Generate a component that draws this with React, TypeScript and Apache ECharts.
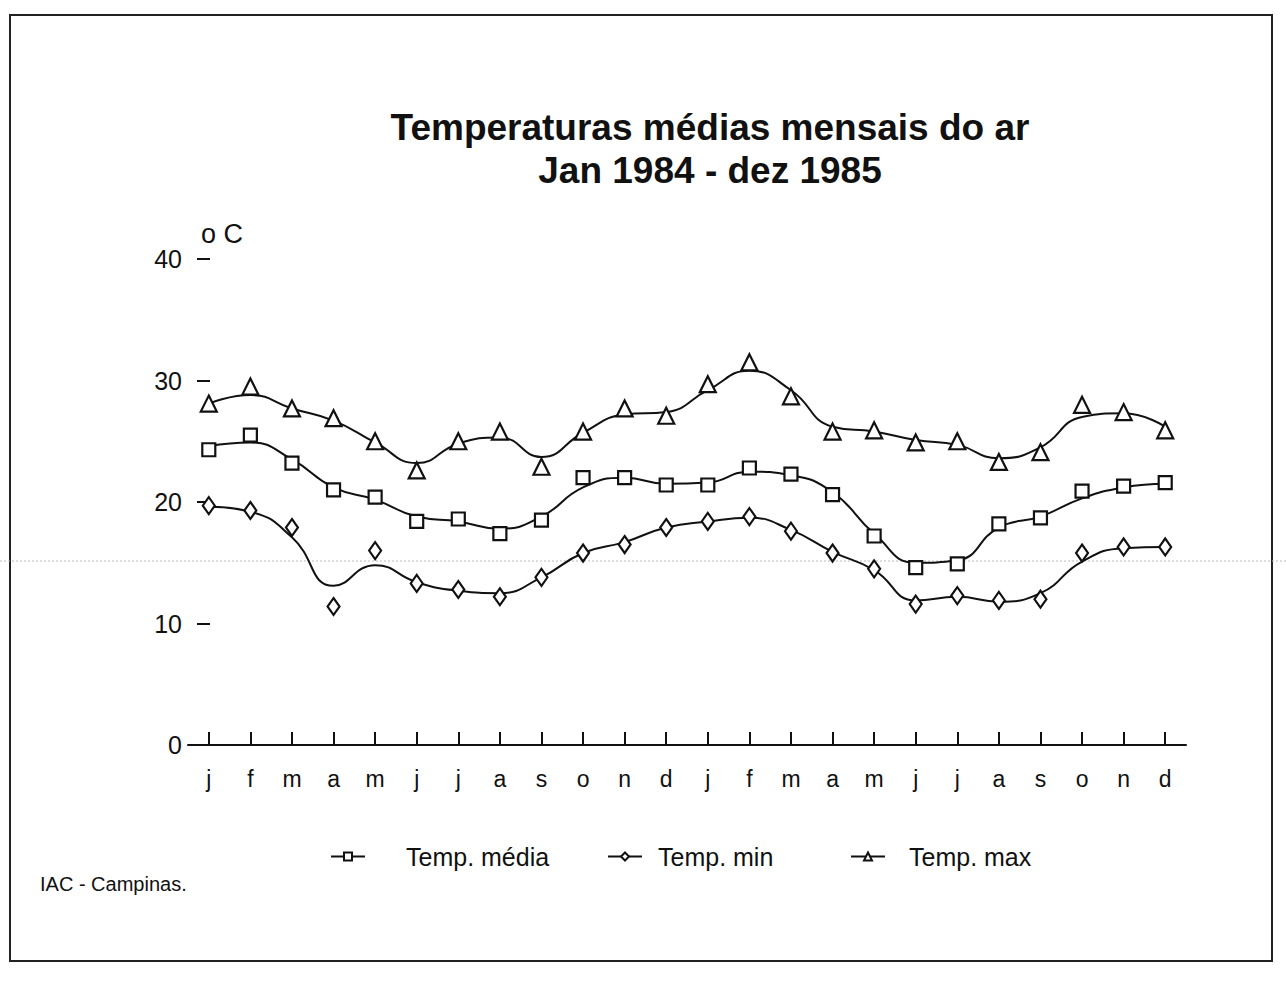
import React, { useEffect, useRef } from "react";
import * as echarts from "echarts";

const months = ["j","f","m","a","m","j","j","a","s","o","n","d","j","f","m","a","m","j","j","a","s","o","n","d"];

// observed monthly values (markers)
const mediaObs = [24.3,25.5,23.2,21.0,20.4,18.4,18.6,17.4,18.5,22.0,22.0,21.4,21.4,22.8,22.3,20.6,17.2,14.6,14.9,18.2,18.7,20.9,21.3,21.6];
const minObs = [19.7,19.3,17.9,11.4,16.0,13.3,12.8,12.2,13.8,15.8,16.5,17.9,18.4,18.8,17.6,15.8,14.5,11.6,12.3,11.9,12.0,15.8,16.3,16.3];
const maxObs = [28.1,29.5,27.7,26.9,25.0,22.6,25.0,25.8,22.9,25.8,27.7,27.1,29.7,31.5,28.7,25.8,25.9,24.9,25.0,23.3,24.1,28.0,27.4,25.9];

// fitted (smoothed) curves, read at each month
const mediaFit = [24.6,24.9,23.5,21.2,20.2,18.8,18.4,17.8,18.8,21.2,22.0,21.5,21.6,22.5,22.2,20.8,17.4,15.0,15.2,17.9,18.8,20.3,21.2,21.5];
const minFit = [19.6,19.2,17.1,13.1,14.8,13.4,12.7,12.5,13.8,15.8,16.7,17.9,18.4,18.7,17.7,15.9,14.4,11.9,12.2,11.8,12.5,15.1,16.2,16.3];
const maxFit = [28.1,28.8,27.7,26.7,24.9,23.2,24.8,25.3,23.7,25.7,27.2,27.4,29.2,30.8,29.2,26.2,25.8,25.1,24.7,23.6,24.5,27.0,27.3,26.2];

const seriesNames = ["Temp. média", "Temp. min", "Temp. max"];
const yTicks = [0, 10, 20, 30, 40];

const FONT = "'Liberation Sans', Arial, sans-serif";
const INK = "#111";

export default function App() {
  const ref = useRef<HTMLDivElement>(null);
  useEffect(() => {
    document.body.style.margin = "0";
    const chart = echarts.init(ref.current!, null, { renderer: "svg" });
    const lineSeries = (name: string, data: number[], symbol: string) => ({
      name,
      type: "line",
      data,
      smooth: 0.5,
      symbol,
      showSymbol: false,
      symbolSize: 10,
      lineStyle: { color: INK, width: 2 },
      itemStyle: { color: "#fff", borderColor: INK, borderWidth: 2 },
      z: 2,
    });
    const scatterSeries = (name: string, data: number[], symbol: string, size: number | number[]) => ({
      name,
      type: "scatter",
      data,
      symbol,
      symbolSize: size,
      itemStyle: { color: "#fff", borderColor: INK, borderWidth: 2.2, opacity: 1 },
      z: 3,
    });
    const legendAt = (name: string, left: number, pad: number) => ({
      data: [name],
      left,
      top: 839,
      itemWidth: 34,
      itemHeight: 10,
      selectedMode: false,
      textStyle: { fontSize: 25, color: INK, padding: [0, 0, 0, pad], fontFamily: FONT },
    });
    chart.setOption({
      animation: false,
      backgroundColor: "#fff",
      textStyle: { fontFamily: FONT },
      title: {
        text: "Temperaturas médias mensais do ar\nJan 1984 - dez 1985",
        left: 705,
        top: 101,
        textAlign: "center",
        textStyle: { fontSize: 37, fontWeight: "bold", color: INK, lineHeight: 43, fontFamily: FONT },
      },
      legend: [
        legendAt(seriesNames[0], 325, 36),
        legendAt(seriesNames[1], 602, 11),
        legendAt(seriesNames[2], 845, 19),
      ],
      grid: { left: 188, right: 100, top: 259, bottom: 242 },
      xAxis: {
        type: "category",
        data: months,
        boundaryGap: true,
        axisLine: { show: true, lineStyle: { color: INK, width: 2 } },
        axisTick: { show: true, alignWithLabel: true, inside: true, length: 13, lineStyle: { color: INK, width: 2 } },
        axisLabel: { color: INK, fontSize: 23, margin: 22, interval: 0, fontFamily: FONT },
        splitLine: { show: false },
      },
      yAxis: {
        type: "value",
        min: 0,
        max: 40,
        interval: 10,
        offset: -22,
        axisLine: { show: false },
        axisTick: { show: true, length: 13, lineStyle: { color: INK, width: 2 } },
        axisLabel: {
          color: INK,
          fontSize: 25,
          margin: 28,
          fontFamily: FONT,
          formatter: (v: number) => (yTicks.includes(v) ? String(v) : ""),
        },
        splitLine: { show: false },
      },
      graphic: [
        {
          type: "rect",
          shape: { x: 10, y: 15, width: 1262, height: 946 },
          style: { fill: "none", stroke: "#222", lineWidth: 2 },
          silent: true,
        },
        {
          type: "line",
          shape: { x1: 0, y1: 561, x2: 1286, y2: 561 },
          style: { stroke: "#bbb", lineWidth: 1, lineDash: [2, 2] },
          silent: true,
          z: 0,
        },
        {
          type: "text",
          x: 201,
          y: 220,
          style: { text: "o C", fontSize: 27, fill: INK, fontFamily: FONT },
          silent: true,
        },
        {
          type: "text",
          x: 40,
          y: 874,
          style: { text: "IAC - Campinas.", fontSize: 20, fill: INK, fontFamily: FONT },
          silent: true,
        },
      ],
      series: [
        lineSeries(seriesNames[0], mediaFit, "rect"),
        lineSeries(seriesNames[1], minFit, "diamond"),
        lineSeries(seriesNames[2], maxFit, "triangle"),
        scatterSeries("média obs", mediaObs, "rect", 13),
        scatterSeries("min obs", minObs, "diamond", [12, 17]),
        scatterSeries("max obs", maxObs, "triangle", 16),
      ],
    });
    return () => chart.dispose();
  }, []);
  return <div ref={ref} style={{ width: 1286, height: 987 }} />;
}
